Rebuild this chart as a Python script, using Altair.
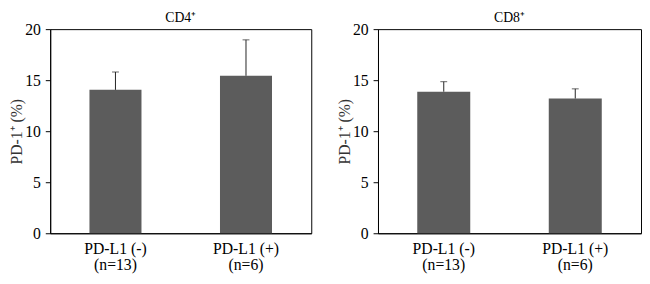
import altair as alt
import pandas as pd

groups = ["PD-L1 (-)", "PD-L1 (+)"]
n_labels = ["(n=13)", "(n=6)"]
cd4_mean = [14.05, 15.43]
cd4_upper = [15.8, 18.95]
cd8_mean = [13.87, 13.2]
cd8_upper = [14.85, 14.15]
y_ticks = [0, 5, 10, 15, 20]

FONT = "Liberation Serif"
BAR = "#5c5c5c"
ERR = "#222222"


def panel(title, means, uppers, width, bar_size):
    df = pd.DataFrame({
        "group": [g + "\n" + n for g, n in zip(groups, n_labels)],
        "mean": means,
        "upper": uppers,
    })
    order = list(df["group"])
    x = alt.X("group:N", sort=order, title=None,
              scale=alt.Scale(paddingInner=0.6, paddingOuter=0.3),
              axis=alt.Axis(labelExpr="split(datum.label, '\\n')", labelAngle=0,
                            ticks=False, labelPadding=8, labelFontSize=16,
                            labelLineHeight=16, labelFont=FONT, labelColor="black",
                            domainColor="black"))
    y = alt.Y("mean:Q", title="PD-1⁺ (%)",
              scale=alt.Scale(domain=[0, 20], nice=False),
              axis=alt.Axis(values=y_ticks, grid=False, tickSize=5, labelPadding=5,
                            labelFontSize=16, labelFont=FONT, labelColor="black",
                            titleFont=FONT, titleFontSize=16, titleFontWeight="normal",
                            titleColor="#333333", titlePadding=0,
                            domainColor="black", tickColor="black"))
    base = alt.Chart(df)
    bars = base.mark_bar(color=BAR, size=bar_size).encode(x=x, y=y)
    err = base.mark_rule(color=ERR, strokeWidth=1).encode(
        x=alt.X("group:N", sort=order), y="mean:Q", y2="upper:Q")
    cap = base.mark_tick(color=ERR, thickness=1, size=7, orient="horizontal").encode(
        x=alt.X("group:N", sort=order), y="upper:Q")
    return (bars + err + cap).properties(
        width=width, height=208,
        title=alt.TitleParams(title, font=FONT, fontSize=14, fontWeight="normal",
                              color="black", offset=-4))


chart = alt.hconcat(
    panel("CD4⁺", cd4_mean, cd4_upper, 266, 53),
    panel("CD8⁺", cd8_mean, cd8_upper, 268, 54),
    spacing=24,
).configure_view(stroke="black", strokeWidth=1).properties(padding=0)

chart.save("out.html", embed_options={"renderer": "svg", "actions": False})
